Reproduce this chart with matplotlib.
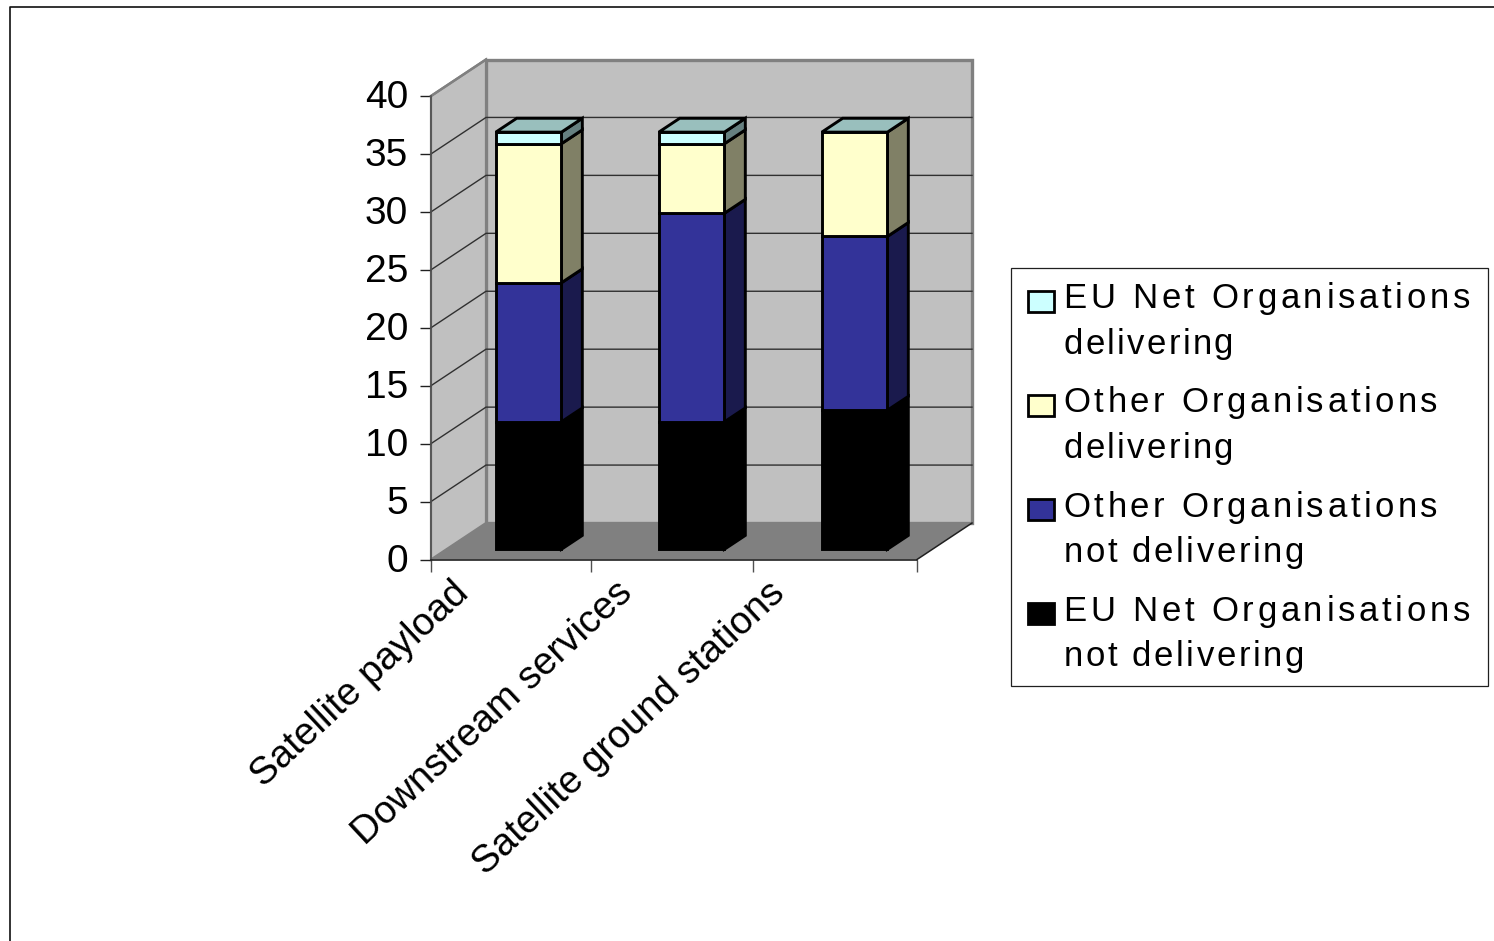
import numpy as np
import matplotlib
matplotlib.use('Agg')
import matplotlib.pyplot as plt
from matplotlib.patches import Polygon, Rectangle
from matplotlib.text import Text
from matplotlib.transforms import ScaledTranslation

plt.rcParams['font.family'] = ['Liberation Sans', 'DejaVu Sans']

# Stacked values, bottom series first
categories = ['Satellite payload', 'Downstream services', 'Satellite ground stations']
eu_not_delivering = [11, 11, 12]
other_not_delivering = [12, 18, 15]
other_delivering = [12, 6, 9]
eu_delivering = [1, 1, 0]

series = [eu_not_delivering, other_not_delivering, other_delivering, eu_delivering]
front_colors = ['#000000', '#333399', '#FFFFCC', '#CCFFFF']
side_colors = ['#000000', '#1A1A4D', '#808066', '#668080']
top_color = '#99BFBD'

legend_labels = [
    ['EU Net Organisations', 'delivering'],
    ['Other Organisations', 'delivering'],
    ['Other Organisations', 'not delivering'],
    ['EU Net Organisations', 'not delivering'],
]
legend_colors = ['#CCFFFF', '#FFFFCC', '#333399', '#000000']
# letter spacing per line, pixels
legend_tracking = [[3.7, 2.3], [3.5, 2.3], [3.5, 2.6], [3.7, 2.6]]

yticks = [0, 5, 10, 15, 20, 25, 30, 35, 40]
xtick_pos = [0, 0.985, 1.99, 3]
label_shift = [0, 0, -7]

W, H = 1494, 941

# depth of the 3D box, in data units
DX = 55 / 162
DY = 36.5 / 11.59
BAR_FRONT = 0.28
BAR_BACK = 0.66
BAR_INSET = 0.305
BAR_WIDTH = 0.405
BAR_STEP = 163 / 162


def proj(x, y, d):
    return (x + d * DX, y + d * DY)


class SpacedText(Text):
    # Text with extra room between the letters
    spacing = 2.3

    def draw(self, renderer):
        if not self.get_visible():
            return
        gc = renderer.new_gc()
        gc.set_foreground(self.get_color())
        gc.set_antialiased(True)
        x0, y0 = self.get_transform().transform(self.get_position())
        fp = self.get_fontproperties()
        s = self.get_text()
        for i, ch in enumerate(s):
            w = renderer.get_text_width_height_descent(s[:i], fp, False)[0] if i else 0
            renderer.draw_text(gc, x0 + w + i * self.spacing, renderer.height - y0, ch, fp, 0)
        gc.restore()


fig = plt.figure(figsize=(W / 100, H / 100), dpi=100, facecolor='white')
ax = fig.add_axes([431 / W, 1 - 559.5 / H, 486 / W, 463.5 / H])
ax.set_xlim(0, 3)
ax.set_ylim(0, 40)
ax.patch.set_visible(False)

# walls and floor
wall_grey = '#C0C0C0'
edge_grey = '#808080'
back = [proj(0, 0, 1), proj(3, 0, 1), proj(3, 40, 1), proj(0, 40, 1)]
left = [proj(0, 0, 0), proj(0, 0, 1), proj(0, 40, 1), proj(0, 40, 0)]
floor = [proj(0, 0, 0), proj(3, 0, 0), proj(3, 0, 1), proj(0, 0, 1)]
ax.add_patch(Polygon(back, closed=True, fc=wall_grey, ec=edge_grey, lw=2.4, clip_on=False, zorder=1))
ax.add_patch(Polygon(left, closed=True, fc=wall_grey, ec=edge_grey, lw=1.6, clip_on=False, zorder=1))
ax.add_patch(Polygon(floor, closed=True, fc=edge_grey, ec='none', clip_on=False, zorder=2))

# gridlines across the back and the side wall
for v in yticks[1:-1]:
    ax.plot([0, DX, 3 + DX], [v, v + DY, v + DY], color='#303030', lw=1.0, clip_on=False, zorder=3)
ax.plot([0, DX], [40, 40 + DY], color=edge_grey, lw=1.8, clip_on=False, zorder=3)
ax.plot([3, 3 + DX], [0, DY], color='#202020', lw=1.1, clip_on=False, zorder=3)

# stacked 3D bars
bar_z = 5
for i in range(len(categories)):
    x0 = i * BAR_STEP + BAR_INSET
    x1 = x0 + BAR_WIDTH
    bottom = 0
    for vals, fc, sc in zip(series, front_colors, side_colors):
        v = vals[i]
        if v == 0:
            continue
        top = bottom + v
        side = [proj(x1, bottom, BAR_FRONT), proj(x1, bottom, BAR_BACK),
                proj(x1, top, BAR_BACK), proj(x1, top, BAR_FRONT)]
        face = [proj(x0, bottom, BAR_FRONT), proj(x1, bottom, BAR_FRONT),
                proj(x1, top, BAR_FRONT), proj(x0, top, BAR_FRONT)]
        for pts, c in ((side, sc), (face, fc)):
            ax.add_patch(Polygon(pts, closed=True, fc=c, ec='black', lw=2.1,
                                 joinstyle='miter', clip_on=False, zorder=bar_z))
        bottom = top
    lid = [proj(x0, bottom, BAR_FRONT), proj(x1, bottom, BAR_FRONT),
           proj(x1, bottom, BAR_BACK), proj(x0, bottom, BAR_BACK)]
    ax.add_patch(Polygon(lid, closed=True, fc=top_color, ec='black', lw=2.1,
                         joinstyle='miter', clip_on=False, zorder=bar_z))

# axes
for name in ['top', 'right']:
    ax.spines[name].set_visible(False)
ax.spines['bottom'].set_linewidth(1.2)
ax.spines['bottom'].set_color('#202020')
ax.spines['bottom'].set_zorder(4)
ax.spines['left'].set_linewidth(1.2)
ax.spines['left'].set_color('#505050')
ax.spines['left'].set_zorder(4)
ax.set_yticks(yticks)
ax.set_yticklabels([str(t) for t in yticks])
ax.tick_params(axis='y', length=8, width=1.0, color='#202020', labelsize=28, pad=8.5)
nudge = ScaledTranslation(0, 2 / 100, fig.dpi_scale_trans)
for lab in ax.get_yticklabels():
    lab.set_transform(lab.get_transform() + nudge)
ax.set_xticks(xtick_pos)
ax.set_xticklabels([])
ax.tick_params(axis='x', length=8.5, width=1.0, color='#505050')

for i, name in enumerate(categories):
    ax.annotate(name, xy=(i * BAR_STEP + 0.5, 0), xytext=(-43.5 + label_shift[i], -11),
                textcoords='offset points', rotation=43, rotation_mode='anchor',
                ha='right', va='top', fontsize=27.7, annotation_clip=False)

# legend and page frame live in pixel coordinates
page = fig.add_axes([0, 0, 1, 1], zorder=10)
page.set_xlim(0, W)
page.set_ylim(H, 0)
page.axis('off')
page.plot([9.8, 9.8, W], [H, 6.5, 6.5], color='#101010', lw=1.2)
page.add_patch(Rectangle((1011, 267.5), 476.5, 418.5, fc='white', ec='#202020', lw=0.9))

for k, (lines, c) in enumerate(zip(legend_labels, legend_colors)):
    y = 308 + k * 104.3
    page.add_patch(Rectangle((1027.5, y - 17.5), 26, 21, fc=c, ec='black', lw=2.0, joinstyle='miter'))
    for j, line in enumerate(lines):
        t = SpacedText(1063.5, y + j * 45.5, line, fontsize=25, color='black', va='baseline')
        t.spacing = legend_tracking[k][j]
        page.add_artist(t)

fig.savefig('out.png', dpi=100)
